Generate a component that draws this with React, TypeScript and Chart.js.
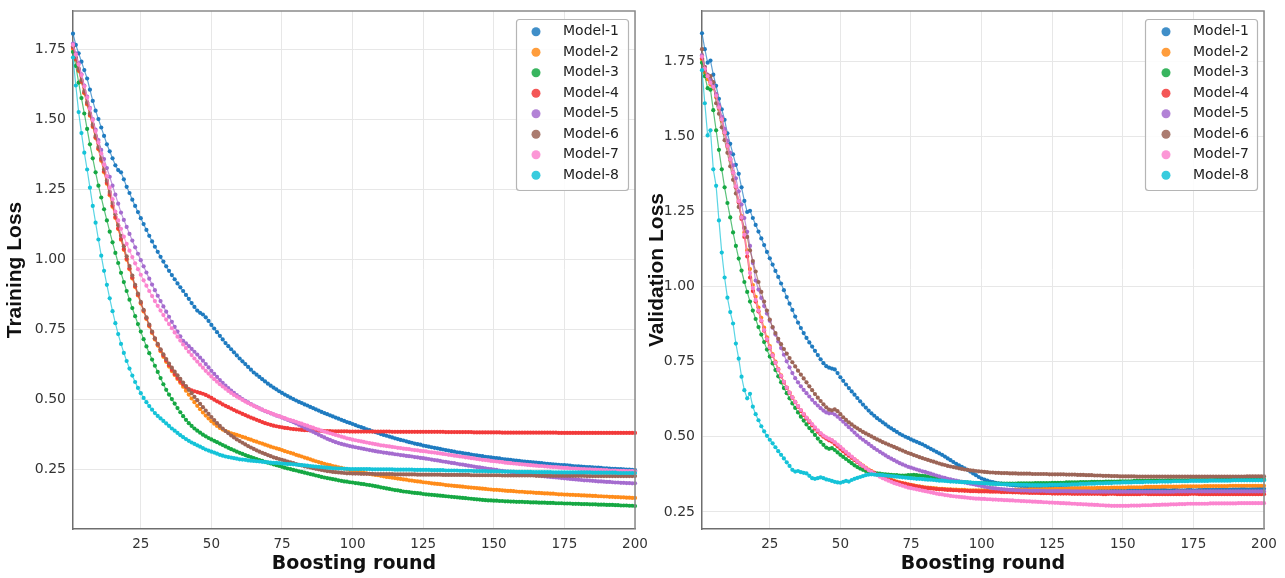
import React, { useEffect, useRef } from 'react';
import { Chart, registerables } from 'chart.js';

Chart.register(...registerables);

const MODELS = ['Model-1', 'Model-2', 'Model-3', 'Model-4', 'Model-5', 'Model-6', 'Model-7', 'Model-8'];
const COLORS = ['#1f7bc0', '#ff8c1a', '#16a843', '#f23a3a', '#a56ccf', '#9c6557', '#fb84cf', '#15c3d8'];
const X_TICKS = [25, 50, 75, 100, 125, 150, 175, 200];
const Y_TICKS = [0.25, 0.5, 0.75, 1.0, 1.25, 1.5, 1.75];
const ROUNDS = Array.from({ length: 200 }, (_, i) => i + 1);
const TRAIN_Y_RANGE = [0.036, 1.886];
const VAL_Y_RANGE = [0.193, 1.917];

// ---------------- Training loss ----------------
const TRAIN_M1 = [
  1.805, 1.765, 1.735, 1.705, 1.675, 1.645, 1.605, 1.565, 1.530, 1.500,
  1.470, 1.440, 1.410, 1.385, 1.360, 1.335, 1.318, 1.310, 1.285, 1.258,
  1.236, 1.212, 1.190, 1.168, 1.146, 1.125, 1.104, 1.083, 1.063, 1.044,
  1.026, 1.008, 0.991, 0.974, 0.958, 0.943, 0.928, 0.913, 0.899, 0.886,
  0.872, 0.858, 0.843, 0.829, 0.816, 0.808, 0.802, 0.792, 0.779, 0.765,
  0.752, 0.739, 0.726, 0.713, 0.700, 0.689, 0.678, 0.667, 0.656, 0.645,
  0.635, 0.625, 0.615, 0.605, 0.595, 0.587, 0.579, 0.571, 0.563, 0.555,
  0.548, 0.541, 0.535, 0.528, 0.522, 0.516, 0.511, 0.505, 0.500, 0.495,
  0.490, 0.486, 0.481, 0.477, 0.472, 0.468, 0.463, 0.459, 0.454, 0.450,
  0.446, 0.442, 0.438, 0.434, 0.430, 0.426, 0.422, 0.418, 0.415, 0.411,
  0.407, 0.403, 0.400, 0.396, 0.392, 0.389, 0.385, 0.382, 0.379, 0.375,
  0.372, 0.369, 0.366, 0.363, 0.360, 0.357, 0.354, 0.352, 0.349, 0.346,
  0.344, 0.341, 0.339, 0.337, 0.334, 0.332, 0.330, 0.328, 0.326, 0.324,
  0.322, 0.320, 0.318, 0.316, 0.314, 0.312, 0.310, 0.309, 0.307, 0.305,
  0.304, 0.302, 0.300, 0.299, 0.297, 0.296, 0.294, 0.293, 0.292, 0.290,
  0.289, 0.288, 0.286, 0.285, 0.284, 0.283, 0.281, 0.280, 0.279, 0.278,
  0.277, 0.276, 0.275, 0.274, 0.273, 0.272, 0.271, 0.270, 0.269, 0.268,
  0.267, 0.266, 0.265, 0.264, 0.264, 0.263, 0.262, 0.261, 0.260, 0.260,
  0.259, 0.258, 0.257, 0.257, 0.256, 0.255, 0.255, 0.254, 0.253, 0.253,
  0.252, 0.251, 0.251, 0.250, 0.250, 0.249, 0.248, 0.248, 0.247, 0.246,
];
const TRAIN_M2 = [
  1.750, 1.712, 1.672, 1.632, 1.592, 1.552, 1.512, 1.472, 1.432, 1.392,
  1.351, 1.310, 1.269, 1.228, 1.187, 1.147, 1.107, 1.069, 1.033, 0.998,
  0.964, 0.931, 0.900, 0.870, 0.841, 0.813, 0.786, 0.760, 0.736, 0.713,
  0.691, 0.671, 0.651, 0.633, 0.616, 0.600, 0.586, 0.572, 0.558, 0.544,
  0.530, 0.516, 0.502, 0.489, 0.476, 0.464, 0.452, 0.441, 0.431, 0.421,
  0.412, 0.404, 0.397, 0.391, 0.386, 0.382, 0.378, 0.375, 0.372, 0.369,
  0.365, 0.362, 0.358, 0.355, 0.351, 0.348, 0.344, 0.341, 0.337, 0.334,
  0.330, 0.327, 0.324, 0.321, 0.318, 0.314, 0.311, 0.308, 0.305, 0.301,
  0.298, 0.295, 0.291, 0.288, 0.285, 0.281, 0.278, 0.275, 0.272, 0.269,
  0.266, 0.264, 0.261, 0.259, 0.256, 0.254, 0.252, 0.249, 0.247, 0.245,
  0.243, 0.241, 0.239, 0.237, 0.235, 0.233, 0.231, 0.229, 0.228, 0.226,
  0.224, 0.222, 0.221, 0.219, 0.218, 0.216, 0.215, 0.213, 0.212, 0.210,
  0.209, 0.207, 0.206, 0.205, 0.203, 0.202, 0.201, 0.199, 0.198, 0.197,
  0.196, 0.195, 0.193, 0.192, 0.191, 0.190, 0.189, 0.188, 0.187, 0.186,
  0.185, 0.184, 0.183, 0.182, 0.181, 0.180, 0.179, 0.178, 0.177, 0.176,
  0.176, 0.175, 0.174, 0.173, 0.172, 0.172, 0.171, 0.170, 0.169, 0.169,
  0.168, 0.167, 0.167, 0.166, 0.165, 0.165, 0.164, 0.163, 0.163, 0.162,
  0.162, 0.161, 0.160, 0.160, 0.159, 0.159, 0.158, 0.158, 0.157, 0.157,
  0.156, 0.156, 0.155, 0.155, 0.154, 0.154, 0.153, 0.153, 0.152, 0.152,
  0.151, 0.151, 0.150, 0.150, 0.149, 0.149, 0.148, 0.148, 0.147, 0.147,
];
const TRAIN_M3 = [
  1.740, 1.690, 1.630, 1.575, 1.520, 1.465, 1.410, 1.360, 1.310, 1.262,
  1.220, 1.178, 1.138, 1.098, 1.060, 1.022, 0.986, 0.951, 0.918, 0.886,
  0.855, 0.825, 0.796, 0.768, 0.741, 0.714, 0.688, 0.664, 0.641, 0.619,
  0.597, 0.575, 0.553, 0.533, 0.516, 0.500, 0.484, 0.468, 0.453, 0.439,
  0.426, 0.414, 0.404, 0.395, 0.387, 0.380, 0.373, 0.367, 0.361, 0.356,
  0.351, 0.346, 0.341, 0.336, 0.331, 0.326, 0.321, 0.317, 0.312, 0.308,
  0.304, 0.300, 0.296, 0.293, 0.289, 0.286, 0.282, 0.279, 0.276, 0.273,
  0.270, 0.267, 0.264, 0.261, 0.258, 0.255, 0.252, 0.250, 0.247, 0.245,
  0.242, 0.240, 0.237, 0.235, 0.232, 0.230, 0.227, 0.225, 0.222, 0.220,
  0.218, 0.216, 0.214, 0.212, 0.210, 0.208, 0.206, 0.205, 0.203, 0.202,
  0.200, 0.199, 0.197, 0.196, 0.194, 0.193, 0.191, 0.189, 0.187, 0.185,
  0.183, 0.181, 0.179, 0.177, 0.175, 0.174, 0.172, 0.170, 0.169, 0.168,
  0.166, 0.165, 0.164, 0.163, 0.161, 0.160, 0.159, 0.158, 0.157, 0.156,
  0.155, 0.154, 0.153, 0.152, 0.151, 0.150, 0.149, 0.148, 0.147, 0.146,
  0.145, 0.144, 0.143, 0.142, 0.141, 0.140, 0.139, 0.138, 0.138, 0.137,
  0.137, 0.136, 0.136, 0.135, 0.135, 0.134, 0.134, 0.133, 0.133, 0.133,
  0.132, 0.132, 0.131, 0.131, 0.131, 0.130, 0.130, 0.130, 0.129, 0.129,
  0.129, 0.128, 0.128, 0.128, 0.127, 0.127, 0.127, 0.126, 0.126, 0.126,
  0.125, 0.125, 0.125, 0.124, 0.124, 0.124, 0.123, 0.123, 0.123, 0.122,
  0.122, 0.122, 0.121, 0.121, 0.120, 0.120, 0.120, 0.119, 0.119, 0.118,
];
const TRAIN_M4 = [
  1.755, 1.715, 1.675, 1.635, 1.595, 1.555, 1.515, 1.475, 1.435, 1.395,
  1.355, 1.314, 1.273, 1.232, 1.191, 1.150, 1.110, 1.072, 1.036, 1.001,
  0.967, 0.934, 0.903, 0.873, 0.844, 0.816, 0.789, 0.763, 0.739, 0.716,
  0.695, 0.675, 0.656, 0.638, 0.621, 0.605, 0.590, 0.576, 0.563, 0.552,
  0.543, 0.536, 0.531, 0.528, 0.525, 0.522, 0.519, 0.515, 0.510, 0.504,
  0.498, 0.492, 0.487, 0.481, 0.476, 0.471, 0.466, 0.461, 0.456, 0.452,
  0.447, 0.443, 0.438, 0.434, 0.430, 0.426, 0.422, 0.418, 0.414, 0.411,
  0.408, 0.405, 0.403, 0.401, 0.399, 0.397, 0.396, 0.394, 0.393, 0.392,
  0.391, 0.390, 0.389, 0.389, 0.388, 0.388, 0.387, 0.387, 0.386, 0.386,
  0.386, 0.386, 0.385, 0.385, 0.385, 0.385, 0.385, 0.385, 0.384, 0.384,
  0.384, 0.384, 0.384, 0.384, 0.384, 0.384, 0.384, 0.384, 0.384, 0.384,
  0.384, 0.384, 0.384, 0.383, 0.383, 0.383, 0.383, 0.383, 0.383, 0.383,
  0.383, 0.383, 0.383, 0.383, 0.383, 0.383, 0.383, 0.383, 0.383, 0.383,
  0.383, 0.383, 0.382, 0.382, 0.382, 0.382, 0.382, 0.382, 0.382, 0.382,
  0.382, 0.382, 0.381, 0.381, 0.381, 0.381, 0.381, 0.381, 0.381, 0.381,
  0.381, 0.381, 0.380, 0.380, 0.380, 0.380, 0.380, 0.380, 0.380, 0.380,
  0.380, 0.380, 0.380, 0.380, 0.380, 0.380, 0.380, 0.380, 0.380, 0.380,
  0.380, 0.380, 0.379, 0.379, 0.379, 0.379, 0.379, 0.379, 0.379, 0.379,
  0.379, 0.379, 0.379, 0.379, 0.379, 0.379, 0.379, 0.379, 0.379, 0.379,
  0.379, 0.379, 0.379, 0.379, 0.379, 0.379, 0.379, 0.379, 0.379, 0.379,
];
const TRAIN_M5 = [
  1.770, 1.735, 1.700, 1.660, 1.620, 1.580, 1.540, 1.500, 1.462, 1.425,
  1.390, 1.357, 1.325, 1.294, 1.262, 1.230, 1.198, 1.166, 1.140, 1.115,
  1.090, 1.066, 1.042, 1.019, 0.996, 0.974, 0.952, 0.930, 0.909, 0.889,
  0.869, 0.850, 0.831, 0.812, 0.794, 0.776, 0.758, 0.741, 0.724, 0.708,
  0.699, 0.689, 0.679, 0.669, 0.659, 0.648, 0.637, 0.625, 0.613, 0.601,
  0.590, 0.579, 0.568, 0.558, 0.548, 0.539, 0.530, 0.522, 0.514, 0.507,
  0.500, 0.494, 0.488, 0.482, 0.477, 0.472, 0.467, 0.462, 0.457, 0.453,
  0.449, 0.445, 0.441, 0.438, 0.434, 0.430, 0.426, 0.422, 0.418, 0.413,
  0.408, 0.403, 0.398, 0.393, 0.388, 0.383, 0.378, 0.373, 0.368, 0.363,
  0.358, 0.354, 0.350, 0.346, 0.343, 0.340, 0.337, 0.335, 0.332, 0.330,
  0.328, 0.326, 0.324, 0.322, 0.320, 0.318, 0.316, 0.314, 0.312, 0.311,
  0.309, 0.308, 0.306, 0.305, 0.303, 0.302, 0.300, 0.299, 0.297, 0.296,
  0.295, 0.293, 0.292, 0.290, 0.289, 0.287, 0.286, 0.284, 0.282, 0.281,
  0.279, 0.277, 0.276, 0.274, 0.272, 0.271, 0.269, 0.267, 0.266, 0.264,
  0.262, 0.261, 0.259, 0.257, 0.256, 0.254, 0.253, 0.251, 0.250, 0.248,
  0.247, 0.245, 0.244, 0.242, 0.241, 0.240, 0.238, 0.237, 0.235, 0.234,
  0.233, 0.231, 0.230, 0.229, 0.228, 0.227, 0.225, 0.224, 0.223, 0.222,
  0.221, 0.220, 0.219, 0.218, 0.217, 0.216, 0.215, 0.214, 0.213, 0.212,
  0.211, 0.210, 0.210, 0.209, 0.208, 0.207, 0.206, 0.206, 0.205, 0.204,
  0.204, 0.203, 0.202, 0.202, 0.201, 0.201, 0.200, 0.200, 0.199, 0.199,
];
const TRAIN_M6 = [
  1.760, 1.720, 1.680, 1.640, 1.600, 1.560, 1.520, 1.480, 1.440, 1.400,
  1.360, 1.320, 1.280, 1.240, 1.200, 1.160, 1.121, 1.083, 1.046, 1.010,
  0.975, 0.941, 0.908, 0.877, 0.847, 0.819, 0.792, 0.766, 0.741, 0.717,
  0.697, 0.678, 0.660, 0.643, 0.627, 0.612, 0.598, 0.585, 0.572, 0.559,
  0.546, 0.533, 0.521, 0.508, 0.496, 0.483, 0.471, 0.459, 0.447, 0.436,
  0.425, 0.414, 0.404, 0.395, 0.386, 0.378, 0.370, 0.363, 0.356, 0.350,
  0.344, 0.338, 0.332, 0.327, 0.322, 0.317, 0.312, 0.308, 0.304, 0.300,
  0.296, 0.292, 0.289, 0.286, 0.283, 0.280, 0.277, 0.274, 0.271, 0.268,
  0.265, 0.263, 0.260, 0.258, 0.256, 0.253, 0.251, 0.249, 0.247, 0.245,
  0.243, 0.242, 0.240, 0.239, 0.238, 0.237, 0.236, 0.235, 0.235, 0.234,
  0.234, 0.234, 0.233, 0.233, 0.233, 0.233, 0.233, 0.232, 0.232, 0.232,
  0.232, 0.232, 0.232, 0.232, 0.231, 0.231, 0.231, 0.231, 0.231, 0.231,
  0.231, 0.231, 0.230, 0.230, 0.230, 0.230, 0.230, 0.230, 0.230, 0.230,
  0.230, 0.229, 0.229, 0.229, 0.229, 0.229, 0.229, 0.229, 0.229, 0.229,
  0.229, 0.228, 0.228, 0.228, 0.228, 0.228, 0.228, 0.228, 0.228, 0.228,
  0.228, 0.228, 0.227, 0.227, 0.227, 0.227, 0.227, 0.227, 0.227, 0.227,
  0.227, 0.227, 0.227, 0.227, 0.226, 0.226, 0.226, 0.226, 0.226, 0.226,
  0.226, 0.226, 0.226, 0.226, 0.226, 0.226, 0.226, 0.226, 0.226, 0.226,
  0.226, 0.226, 0.225, 0.225, 0.225, 0.225, 0.225, 0.225, 0.225, 0.225,
  0.225, 0.225, 0.225, 0.225, 0.225, 0.225, 0.225, 0.225, 0.225, 0.225,
];
const TRAIN_M7 = [
  1.765, 1.730, 1.695, 1.657, 1.617, 1.577, 1.537, 1.497, 1.457, 1.417,
  1.377, 1.337, 1.296, 1.255, 1.214, 1.170, 1.138, 1.108, 1.080, 1.054,
  1.030, 1.007, 0.985, 0.964, 0.944, 0.924, 0.905, 0.886, 0.868, 0.850,
  0.833, 0.816, 0.800, 0.784, 0.768, 0.753, 0.738, 0.723, 0.709, 0.695,
  0.682, 0.669, 0.657, 0.645, 0.634, 0.623, 0.612, 0.601, 0.591, 0.581,
  0.571, 0.562, 0.553, 0.545, 0.537, 0.529, 0.522, 0.515, 0.509, 0.503,
  0.497, 0.491, 0.486, 0.481, 0.476, 0.471, 0.466, 0.462, 0.458, 0.454,
  0.450, 0.446, 0.442, 0.439, 0.435, 0.432, 0.428, 0.425, 0.422, 0.419,
  0.415, 0.412, 0.408, 0.405, 0.401, 0.398, 0.394, 0.391, 0.387, 0.384,
  0.381, 0.378, 0.375, 0.372, 0.369, 0.366, 0.363, 0.360, 0.358, 0.355,
  0.353, 0.351, 0.349, 0.347, 0.345, 0.343, 0.341, 0.339, 0.337, 0.335,
  0.334, 0.332, 0.331, 0.329, 0.328, 0.326, 0.325, 0.323, 0.322, 0.321,
  0.319, 0.318, 0.317, 0.315, 0.314, 0.313, 0.311, 0.310, 0.309, 0.307,
  0.306, 0.304, 0.303, 0.301, 0.300, 0.298, 0.297, 0.295, 0.294, 0.292,
  0.291, 0.289, 0.288, 0.286, 0.285, 0.283, 0.282, 0.281, 0.279, 0.278,
  0.277, 0.276, 0.275, 0.273, 0.272, 0.271, 0.270, 0.269, 0.268, 0.267,
  0.266, 0.265, 0.264, 0.263, 0.262, 0.261, 0.261, 0.260, 0.259, 0.258,
  0.257, 0.257, 0.256, 0.255, 0.254, 0.254, 0.253, 0.252, 0.252, 0.251,
  0.250, 0.250, 0.249, 0.249, 0.248, 0.248, 0.247, 0.247, 0.246, 0.246,
  0.245, 0.245, 0.245, 0.244, 0.244, 0.244, 0.243, 0.243, 0.243, 0.242,
];
const TRAIN_M8 = [
  1.720, 1.620, 1.525, 1.450, 1.380, 1.320, 1.255, 1.190, 1.130, 1.070,
  1.012, 0.958, 0.908, 0.860, 0.814, 0.771, 0.732, 0.697, 0.665, 0.636,
  0.609, 0.584, 0.561, 0.540, 0.521, 0.504, 0.489, 0.475, 0.462, 0.450,
  0.440, 0.431, 0.422, 0.413, 0.404, 0.395, 0.387, 0.379, 0.371, 0.364,
  0.357, 0.351, 0.345, 0.340, 0.335, 0.330, 0.325, 0.320, 0.316, 0.312,
  0.309, 0.305, 0.301, 0.298, 0.295, 0.293, 0.291, 0.289, 0.287, 0.285,
  0.284, 0.283, 0.281, 0.280, 0.279, 0.278, 0.277, 0.276, 0.275, 0.274,
  0.273, 0.272, 0.272, 0.271, 0.270, 0.269, 0.268, 0.268, 0.267, 0.266,
  0.265, 0.264, 0.263, 0.262, 0.261, 0.260, 0.259, 0.258, 0.257, 0.256,
  0.255, 0.254, 0.253, 0.253, 0.252, 0.252, 0.251, 0.251, 0.250, 0.250,
  0.250, 0.250, 0.250, 0.250, 0.250, 0.250, 0.249, 0.249, 0.249, 0.249,
  0.249, 0.249, 0.249, 0.249, 0.248, 0.248, 0.248, 0.248, 0.248, 0.248,
  0.248, 0.247, 0.247, 0.247, 0.247, 0.247, 0.247, 0.246, 0.246, 0.246,
  0.246, 0.246, 0.245, 0.245, 0.245, 0.245, 0.245, 0.244, 0.244, 0.244,
  0.244, 0.244, 0.243, 0.243, 0.243, 0.243, 0.243, 0.242, 0.242, 0.242,
  0.242, 0.242, 0.241, 0.241, 0.241, 0.241, 0.241, 0.240, 0.240, 0.240,
  0.240, 0.240, 0.240, 0.239, 0.239, 0.239, 0.239, 0.239, 0.239, 0.239,
  0.238, 0.238, 0.238, 0.238, 0.238, 0.238, 0.238, 0.238, 0.238, 0.238,
  0.238, 0.238, 0.238, 0.238, 0.237, 0.237, 0.237, 0.237, 0.237, 0.237,
  0.237, 0.237, 0.237, 0.236, 0.236, 0.236, 0.236, 0.236, 0.236, 0.236,
];

// ---------------- Validation loss ----------------
const VAL_M1 = [
  1.843, 1.790, 1.745, 1.752, 1.705, 1.668, 1.625, 1.590, 1.555, 1.510,
  1.475, 1.440, 1.405, 1.375, 1.330, 1.285, 1.248, 1.252, 1.228, 1.205,
  1.183, 1.160, 1.138, 1.115, 1.094, 1.073, 1.052, 1.032, 1.010, 0.988,
  0.965, 0.943, 0.922, 0.900, 0.880, 0.862, 0.845, 0.829, 0.814, 0.800,
  0.786, 0.772, 0.758, 0.745, 0.735, 0.730, 0.727, 0.724, 0.712, 0.698,
  0.686, 0.674, 0.662, 0.651, 0.640, 0.629, 0.618, 0.607, 0.597, 0.587,
  0.578, 0.570, 0.562, 0.555, 0.548, 0.541, 0.534, 0.528, 0.522, 0.516,
  0.510, 0.505, 0.500, 0.496, 0.491, 0.487, 0.483, 0.479, 0.475, 0.470,
  0.465, 0.460, 0.455, 0.450, 0.445, 0.440, 0.434, 0.428, 0.422, 0.416,
  0.410, 0.405, 0.400, 0.395, 0.390, 0.384, 0.378, 0.372, 0.366, 0.361,
  0.357, 0.354, 0.351, 0.349, 0.347, 0.345, 0.344, 0.342, 0.341, 0.340,
  0.339, 0.338, 0.337, 0.336, 0.336, 0.335, 0.334, 0.334, 0.333, 0.333,
  0.332, 0.332, 0.331, 0.331, 0.331, 0.330, 0.330, 0.330, 0.329, 0.329,
  0.329, 0.328, 0.328, 0.328, 0.328, 0.327, 0.327, 0.327, 0.327, 0.327,
  0.327, 0.326, 0.326, 0.327, 0.327, 0.326, 0.326, 0.325, 0.325, 0.326,
  0.326, 0.325, 0.325, 0.324, 0.324, 0.325, 0.325, 0.324, 0.324, 0.323,
  0.323, 0.324, 0.324, 0.323, 0.323, 0.322, 0.322, 0.323, 0.323, 0.322,
  0.322, 0.322, 0.323, 0.323, 0.322, 0.322, 0.323, 0.323, 0.324, 0.324,
  0.323, 0.323, 0.324, 0.324, 0.325, 0.325, 0.324, 0.324, 0.325, 0.325,
  0.325, 0.326, 0.326, 0.325, 0.325, 0.326, 0.326, 0.327, 0.327, 0.327,
];
const VAL_M2 = [
  1.755, 1.712, 1.690, 1.672, 1.660, 1.630, 1.592, 1.552, 1.510, 1.466,
  1.422, 1.378, 1.332, 1.285, 1.234, 1.180, 1.120, 1.058, 1.005, 0.966,
  0.930, 0.896, 0.863, 0.831, 0.802, 0.775, 0.750, 0.726, 0.704, 0.683,
  0.664, 0.647, 0.631, 0.616, 0.602, 0.588, 0.575, 0.563, 0.551, 0.540,
  0.529, 0.519, 0.510, 0.502, 0.496, 0.491, 0.487, 0.480, 0.472, 0.464,
  0.456, 0.448, 0.440, 0.432, 0.425, 0.418, 0.411, 0.404, 0.397, 0.391,
  0.386, 0.381, 0.376, 0.372, 0.368, 0.364, 0.360, 0.357, 0.354, 0.351,
  0.348, 0.346, 0.344, 0.342, 0.340, 0.338, 0.336, 0.335, 0.333, 0.332,
  0.331, 0.330, 0.329, 0.328, 0.327, 0.327, 0.326, 0.325, 0.325, 0.324,
  0.324, 0.323, 0.323, 0.323, 0.322, 0.322, 0.322, 0.322, 0.322, 0.322,
  0.322, 0.322, 0.322, 0.322, 0.322, 0.323, 0.323, 0.323, 0.323, 0.323,
  0.323, 0.324, 0.324, 0.324, 0.324, 0.324, 0.325, 0.325, 0.325, 0.325,
  0.325, 0.326, 0.326, 0.326, 0.326, 0.327, 0.327, 0.327, 0.327, 0.327,
  0.328, 0.328, 0.328, 0.328, 0.328, 0.329, 0.329, 0.329, 0.329, 0.329,
  0.330, 0.330, 0.330, 0.330, 0.330, 0.331, 0.331, 0.331, 0.331, 0.331,
  0.331, 0.332, 0.332, 0.332, 0.332, 0.332, 0.332, 0.333, 0.333, 0.333,
  0.333, 0.333, 0.333, 0.334, 0.334, 0.334, 0.334, 0.334, 0.334, 0.334,
  0.335, 0.335, 0.335, 0.335, 0.335, 0.335, 0.335, 0.335, 0.336, 0.336,
  0.336, 0.336, 0.336, 0.336, 0.336, 0.336, 0.336, 0.337, 0.337, 0.337,
  0.337, 0.337, 0.337, 0.337, 0.337, 0.337, 0.337, 0.337, 0.337, 0.337,
];
const VAL_M3 = [
  1.745, 1.700, 1.660, 1.655, 1.587, 1.520, 1.455, 1.390, 1.330, 1.278,
  1.230, 1.180, 1.135, 1.093, 1.053, 1.015, 0.982, 0.950, 0.920, 0.892,
  0.865, 0.840, 0.815, 0.790, 0.767, 0.744, 0.722, 0.701, 0.681, 0.662,
  0.645, 0.628, 0.611, 0.596, 0.581, 0.567, 0.554, 0.541, 0.529, 0.518,
  0.506, 0.494, 0.483, 0.473, 0.464, 0.460, 0.462, 0.456, 0.448, 0.440,
  0.433, 0.426, 0.419, 0.412, 0.405, 0.399, 0.394, 0.390, 0.386, 0.383,
  0.381, 0.379, 0.378, 0.377, 0.376, 0.375, 0.374, 0.373, 0.372, 0.372,
  0.371, 0.371, 0.371, 0.372, 0.372, 0.373, 0.372, 0.371, 0.370, 0.369,
  0.367, 0.365, 0.363, 0.361, 0.359, 0.357, 0.356, 0.355, 0.354, 0.353,
  0.352, 0.351, 0.350, 0.349, 0.348, 0.347, 0.347, 0.346, 0.346, 0.345,
  0.345, 0.345, 0.344, 0.344, 0.344, 0.344, 0.344, 0.344, 0.344, 0.344,
  0.344, 0.344, 0.345, 0.345, 0.345, 0.345, 0.345, 0.345, 0.346, 0.346,
  0.346, 0.346, 0.346, 0.346, 0.347, 0.347, 0.347, 0.347, 0.347, 0.348,
  0.348, 0.348, 0.348, 0.348, 0.349, 0.349, 0.349, 0.349, 0.350, 0.350,
  0.350, 0.350, 0.350, 0.351, 0.351, 0.351, 0.351, 0.351, 0.352, 0.352,
  0.352, 0.352, 0.352, 0.353, 0.353, 0.353, 0.353, 0.353, 0.353, 0.354,
  0.354, 0.354, 0.354, 0.354, 0.354, 0.355, 0.355, 0.355, 0.355, 0.355,
  0.355, 0.355, 0.355, 0.356, 0.356, 0.356, 0.356, 0.356, 0.356, 0.356,
  0.356, 0.356, 0.357, 0.357, 0.357, 0.357, 0.357, 0.357, 0.357, 0.357,
  0.357, 0.357, 0.357, 0.358, 0.358, 0.358, 0.358, 0.358, 0.358, 0.358,
];
const VAL_M4 = [
  1.760, 1.720, 1.700, 1.680, 1.668, 1.640, 1.600, 1.560, 1.515, 1.470,
  1.425, 1.380, 1.330, 1.280, 1.225, 1.165, 1.100, 1.030, 0.985, 0.950,
  0.917, 0.885, 0.853, 0.822, 0.795, 0.770, 0.746, 0.723, 0.701, 0.681,
  0.663, 0.646, 0.630, 0.615, 0.600, 0.586, 0.573, 0.561, 0.549, 0.538,
  0.527, 0.517, 0.508, 0.500, 0.494, 0.488, 0.484, 0.476, 0.468, 0.460,
  0.452, 0.444, 0.437, 0.430, 0.423, 0.416, 0.409, 0.402, 0.395, 0.389,
  0.384, 0.379, 0.374, 0.370, 0.366, 0.362, 0.358, 0.355, 0.352, 0.349,
  0.347, 0.345, 0.343, 0.341, 0.339, 0.337, 0.335, 0.333, 0.332, 0.330,
  0.329, 0.328, 0.327, 0.326, 0.325, 0.325, 0.324, 0.323, 0.323, 0.322,
  0.322, 0.321, 0.321, 0.320, 0.320, 0.319, 0.319, 0.319, 0.318, 0.318,
  0.318, 0.318, 0.317, 0.317, 0.317, 0.317, 0.316, 0.316, 0.316, 0.316,
  0.315, 0.315, 0.315, 0.314, 0.314, 0.314, 0.313, 0.313, 0.313, 0.313,
  0.312, 0.312, 0.312, 0.312, 0.311, 0.311, 0.311, 0.311, 0.311, 0.311,
  0.311, 0.310, 0.310, 0.310, 0.310, 0.310, 0.310, 0.310, 0.310, 0.310,
  0.310, 0.310, 0.309, 0.309, 0.310, 0.310, 0.310, 0.309, 0.309, 0.309,
  0.309, 0.309, 0.309, 0.309, 0.309, 0.309, 0.310, 0.310, 0.309, 0.309,
  0.309, 0.309, 0.309, 0.309, 0.309, 0.309, 0.309, 0.309, 0.309, 0.309,
  0.309, 0.309, 0.309, 0.310, 0.310, 0.310, 0.309, 0.309, 0.309, 0.309,
  0.309, 0.309, 0.309, 0.309, 0.309, 0.309, 0.309, 0.309, 0.309, 0.309,
  0.309, 0.309, 0.309, 0.309, 0.309, 0.309, 0.309, 0.309, 0.309, 0.309,
];
const VAL_M5 = [
  1.770, 1.730, 1.705, 1.690, 1.670, 1.640, 1.605, 1.565, 1.525, 1.485,
  1.445, 1.403, 1.360, 1.317, 1.273, 1.228, 1.182, 1.135, 1.078, 1.020,
  0.990, 0.962, 0.935, 0.910, 0.886, 0.863, 0.840, 0.817, 0.795, 0.773,
  0.751, 0.731, 0.712, 0.695, 0.681, 0.668, 0.656, 0.645, 0.634, 0.623,
  0.613, 0.604, 0.595, 0.587, 0.581, 0.578, 0.579, 0.574, 0.567, 0.559,
  0.550, 0.541, 0.532, 0.523, 0.514, 0.505, 0.497, 0.490, 0.483, 0.476,
  0.469, 0.462, 0.456, 0.450, 0.444, 0.438, 0.432, 0.427, 0.422, 0.417,
  0.412, 0.408, 0.404, 0.400, 0.397, 0.394, 0.391, 0.388, 0.385, 0.383,
  0.380, 0.377, 0.374, 0.371, 0.368, 0.365, 0.363, 0.360, 0.358, 0.356,
  0.354, 0.352, 0.350, 0.348, 0.346, 0.344, 0.342, 0.340, 0.338, 0.336,
  0.334, 0.332, 0.330, 0.329, 0.328, 0.327, 0.326, 0.325, 0.324, 0.323,
  0.323, 0.322, 0.322, 0.321, 0.321, 0.321, 0.320, 0.320, 0.320, 0.320,
  0.320, 0.320, 0.319, 0.319, 0.319, 0.319, 0.319, 0.319, 0.319, 0.319,
  0.319, 0.318, 0.318, 0.318, 0.318, 0.318, 0.318, 0.318, 0.317, 0.317,
  0.317, 0.317, 0.317, 0.317, 0.317, 0.317, 0.317, 0.317, 0.317, 0.317,
  0.317, 0.317, 0.317, 0.317, 0.317, 0.317, 0.317, 0.317, 0.317, 0.317,
  0.317, 0.317, 0.317, 0.317, 0.317, 0.317, 0.317, 0.317, 0.318, 0.318,
  0.318, 0.318, 0.318, 0.318, 0.318, 0.318, 0.318, 0.318, 0.318, 0.318,
  0.318, 0.318, 0.318, 0.318, 0.318, 0.318, 0.318, 0.318, 0.318, 0.318,
  0.318, 0.318, 0.318, 0.318, 0.318, 0.318, 0.318, 0.318, 0.318, 0.318,
];
const VAL_M6 = [
  1.790, 1.730, 1.703, 1.700, 1.680, 1.610, 1.575, 1.530, 1.487, 1.445,
  1.400, 1.355, 1.310, 1.265, 1.230, 1.195, 1.165, 1.120, 1.085, 1.050,
  1.015, 0.982, 0.950, 0.920, 0.890, 0.865, 0.845, 0.826, 0.808, 0.792,
  0.777, 0.762, 0.748, 0.734, 0.720, 0.707, 0.694, 0.681, 0.668, 0.655,
  0.642, 0.630, 0.619, 0.608, 0.598, 0.590, 0.588, 0.591, 0.585, 0.575,
  0.565, 0.556, 0.548, 0.541, 0.534, 0.528, 0.522, 0.516, 0.511, 0.506,
  0.501, 0.496, 0.491, 0.487, 0.482, 0.478, 0.474, 0.470, 0.466, 0.462,
  0.458, 0.454, 0.450, 0.446, 0.443, 0.439, 0.436, 0.432, 0.429, 0.426,
  0.423, 0.420, 0.417, 0.414, 0.411, 0.408, 0.406, 0.403, 0.401, 0.399,
  0.397, 0.395, 0.393, 0.391, 0.390, 0.388, 0.387, 0.386, 0.385, 0.384,
  0.383, 0.382, 0.381, 0.381, 0.380, 0.380, 0.379, 0.379, 0.379, 0.378,
  0.378, 0.378, 0.377, 0.377, 0.377, 0.377, 0.377, 0.376, 0.376, 0.376,
  0.376, 0.376, 0.376, 0.375, 0.375, 0.375, 0.375, 0.375, 0.375, 0.374,
  0.374, 0.374, 0.374, 0.373, 0.373, 0.373, 0.372, 0.372, 0.372, 0.371,
  0.371, 0.371, 0.370, 0.370, 0.370, 0.369, 0.369, 0.369, 0.368, 0.368,
  0.368, 0.368, 0.368, 0.368, 0.367, 0.367, 0.367, 0.367, 0.367, 0.367,
  0.367, 0.367, 0.367, 0.367, 0.367, 0.367, 0.367, 0.367, 0.367, 0.367,
  0.367, 0.367, 0.367, 0.367, 0.367, 0.367, 0.367, 0.367, 0.367, 0.367,
  0.367, 0.367, 0.367, 0.367, 0.367, 0.367, 0.367, 0.367, 0.367, 0.367,
  0.367, 0.367, 0.367, 0.368, 0.368, 0.368, 0.368, 0.368, 0.368, 0.368,
];
const VAL_M7 = [
  1.765, 1.725, 1.700, 1.678, 1.664, 1.635, 1.596, 1.556, 1.513, 1.468,
  1.424, 1.379, 1.333, 1.284, 1.230, 1.172, 1.112, 1.045, 0.995, 0.955,
  0.920, 0.887, 0.855, 0.825, 0.797, 0.771, 0.747, 0.724, 0.703, 0.683,
  0.664, 0.647, 0.631, 0.616, 0.602, 0.589, 0.576, 0.564, 0.553, 0.542,
  0.531, 0.521, 0.512, 0.504, 0.498, 0.493, 0.489, 0.482, 0.474, 0.466,
  0.458, 0.450, 0.442, 0.434, 0.426, 0.418, 0.410, 0.403, 0.396, 0.389,
  0.383, 0.377, 0.372, 0.367, 0.362, 0.358, 0.354, 0.350, 0.346, 0.343,
  0.340, 0.337, 0.334, 0.331, 0.329, 0.327, 0.325, 0.323, 0.321, 0.319,
  0.317, 0.315, 0.313, 0.311, 0.309, 0.308, 0.306, 0.305, 0.303, 0.302,
  0.301, 0.300, 0.299, 0.298, 0.297, 0.296, 0.295, 0.294, 0.294, 0.293,
  0.293, 0.292, 0.292, 0.291, 0.291, 0.290, 0.290, 0.289, 0.289, 0.288,
  0.288, 0.287, 0.287, 0.286, 0.286, 0.285, 0.285, 0.284, 0.284, 0.283,
  0.283, 0.282, 0.282, 0.281, 0.281, 0.280, 0.280, 0.279, 0.279, 0.278,
  0.278, 0.277, 0.277, 0.276, 0.276, 0.275, 0.275, 0.274, 0.274, 0.273,
  0.273, 0.272, 0.272, 0.271, 0.271, 0.270, 0.270, 0.270, 0.270, 0.270,
  0.270, 0.270, 0.271, 0.271, 0.271, 0.271, 0.272, 0.272, 0.272, 0.272,
  0.273, 0.273, 0.273, 0.274, 0.274, 0.274, 0.275, 0.275, 0.275, 0.276,
  0.276, 0.276, 0.277, 0.277, 0.277, 0.277, 0.277, 0.277, 0.277, 0.277,
  0.278, 0.278, 0.278, 0.278, 0.278, 0.278, 0.278, 0.278, 0.278, 0.278,
  0.279, 0.279, 0.279, 0.279, 0.279, 0.279, 0.279, 0.279, 0.279, 0.279,
];
const VAL_M8 = [
  1.720, 1.610, 1.503, 1.520, 1.390, 1.335, 1.220, 1.113, 1.030, 0.963,
  0.915, 0.877, 0.810, 0.760, 0.700, 0.655, 0.628, 0.643, 0.600, 0.575,
  0.555, 0.535, 0.518, 0.503, 0.490, 0.478, 0.465, 0.452, 0.440, 0.428,
  0.415, 0.403, 0.390, 0.384, 0.386, 0.382, 0.380, 0.378, 0.370, 0.362,
  0.360, 0.362, 0.365, 0.362, 0.358, 0.356, 0.353, 0.350, 0.348, 0.347,
  0.350, 0.353, 0.351, 0.356, 0.360, 0.363, 0.366, 0.369, 0.372, 0.374,
  0.375, 0.374, 0.373, 0.373, 0.372, 0.371, 0.370, 0.369, 0.368, 0.367,
  0.366, 0.365, 0.364, 0.363, 0.362, 0.361, 0.360, 0.360, 0.359, 0.358,
  0.357, 0.357, 0.356, 0.355, 0.354, 0.354, 0.353, 0.352, 0.351, 0.351,
  0.350, 0.350, 0.349, 0.349, 0.348, 0.348, 0.347, 0.347, 0.346, 0.346,
  0.345, 0.345, 0.344, 0.344, 0.343, 0.343, 0.342, 0.342, 0.342, 0.341,
  0.341, 0.341, 0.340, 0.340, 0.340, 0.340, 0.339, 0.339, 0.339, 0.339,
  0.339, 0.339, 0.339, 0.340, 0.340, 0.340, 0.340, 0.341, 0.341, 0.341,
  0.341, 0.342, 0.342, 0.342, 0.343, 0.343, 0.343, 0.344, 0.344, 0.344,
  0.345, 0.345, 0.345, 0.346, 0.346, 0.346, 0.347, 0.347, 0.347, 0.348,
  0.348, 0.348, 0.348, 0.349, 0.349, 0.349, 0.349, 0.350, 0.350, 0.350,
  0.350, 0.350, 0.351, 0.351, 0.351, 0.351, 0.351, 0.352, 0.352, 0.352,
  0.352, 0.352, 0.352, 0.353, 0.353, 0.353, 0.353, 0.353, 0.353, 0.353,
  0.354, 0.354, 0.354, 0.354, 0.354, 0.354, 0.354, 0.354, 0.355, 0.355,
  0.355, 0.355, 0.355, 0.355, 0.355, 0.355, 0.355, 0.355, 0.355, 0.355,
];

const TRAIN_SERIES = [TRAIN_M1, TRAIN_M2, TRAIN_M3, TRAIN_M4, TRAIN_M5, TRAIN_M6, TRAIN_M7, TRAIN_M8];
const VAL_SERIES = [VAL_M1, VAL_M2, VAL_M3, VAL_M4, VAL_M5, VAL_M6, VAL_M7, VAL_M8];

function withAlpha(hex: string, a: number) {
  const n = parseInt(hex.slice(1), 16);
  return `rgba(${(n >> 16) & 255},${(n >> 8) & 255},${n & 255},${a})`;
}

const framePlugin = {
  id: 'frame',
  afterDatasetsDraw(chart: any) {
    const { ctx, chartArea: a } = chart;
    ctx.save();
    ctx.strokeStyle = '#8a8a8a';
    ctx.lineWidth = 1.5;
    ctx.beginPath();
    ctx.moveTo(a.left, a.top);
    ctx.lineTo(a.right, a.top);
    ctx.lineTo(a.right, a.bottom);
    ctx.stroke();
    ctx.restore();
  },
};

const boxLegend = {
  id: 'boxLegend',
  afterDraw(chart: any, _args: any, opts: any) {
    const { ctx } = chart;
    const { x, y, w, h, markerX, textX, firstY, rowH } = opts;
    ctx.save();
    ctx.beginPath();
    if (ctx.roundRect) ctx.roundRect(x + 0.5, y + 0.5, w, h, 3);
    else ctx.rect(x + 0.5, y + 0.5, w, h);
    ctx.fillStyle = 'rgba(255,255,255,0.85)';
    ctx.fill();
    ctx.strokeStyle = '#b5b5b5';
    ctx.lineWidth = 1.2;
    ctx.stroke();
    chart.data.datasets.forEach((ds: any, i: number) => {
      const cy = firstY + i * rowH;
      ctx.beginPath();
      ctx.arc(markerX, cy, 4.5, 0, Math.PI * 2);
      ctx.fillStyle = withAlpha(COLORS[i], 0.85);
      ctx.fill();
      ctx.fillStyle = '#222';
      ctx.font = "14px 'DejaVu Sans', sans-serif";
      ctx.textBaseline = 'middle';
      ctx.textAlign = 'left';
      ctx.fillText(ds.label, textX, cy);
    });
    ctx.restore();
  },
};

function makeConfig(
  series: number[][],
  yRange: number[],
  yTitle: string,
  yWidth: number,
  rightPad: number,
  titlePad: number,
  legend: any
): any {
  return {
    type: 'line',
    data: {
      datasets: MODELS.map((name, i) => ({
        label: name,
        data: series[i].map((v, j) => ({ x: ROUNDS[j], y: v })),
        borderColor: withAlpha(COLORS[i], 0.7),
        backgroundColor: COLORS[i],
        pointBackgroundColor: COLORS[i],
        pointBorderWidth: 0,
        pointRadius: 2.1,
        pointHoverRadius: 0,
        borderWidth: 1.2,
        tension: 0,
        order: 7 - i,
        clip: 4,
      })),
    },
    options: {
      animation: false,
      responsive: false,
      maintainAspectRatio: false,
      devicePixelRatio: 1,
      events: [],
      layout: { padding: { top: 11, right: rightPad, left: 0, bottom: 0 } },
      plugins: {
        legend: { display: false },
        tooltip: { enabled: false },
        boxLegend: legend,
      },
      scales: {
        x: {
          type: 'linear',
          min: 1,
          max: 200,
          afterBuildTicks: (s: any) => {
            s.ticks = X_TICKS.map((v) => ({ value: v }));
          },
          afterFit: (s: any) => {
            s.height = 49;
            s.paddingLeft = 0;
            s.paddingRight = 0;
          },
          grid: { color: '#e7e7e7', lineWidth: 1, drawTicks: false },
          border: { color: '#6e6e6e', width: 1.5 },
          ticks: {
            font: { family: "'DejaVu Sans', sans-serif", size: 13.5 },
            color: '#333',
            padding: 7,
            maxRotation: 0,
            autoSkip: false,
            callback: (v: any) => String(v),
          },
          title: {
            display: true,
            text: 'Boosting round',
            color: '#111',
            font: { family: "'DejaVu Sans', sans-serif", size: 19, weight: 'bold' },
            padding: { top: 0, bottom: 2.6 },
          },
        },
        y: {
          type: 'linear',
          min: yRange[0],
          max: yRange[1],
          afterBuildTicks: (s: any) => {
            s.ticks = Y_TICKS.map((v) => ({ value: v }));
          },
          afterFit: (s: any) => {
            s.width = yWidth;
            s.paddingTop = 0;
            s.paddingBottom = 0;
          },
          grid: { color: '#e7e7e7', lineWidth: 1, drawTicks: false },
          border: { color: '#6e6e6e', width: 1.5 },
          ticks: {
            font: { family: "'DejaVu Sans', sans-serif", size: 14 },
            color: '#333',
            padding: 7,
            autoSkip: false,
            callback: (v: any) => Number(v).toFixed(2),
          },
          title: {
            display: true,
            text: yTitle,
            color: '#111',
            font: { family: "'Liberation Sans', Arial, sans-serif", size: 21, weight: 'bold' },
            padding: { top: titlePad, bottom: 0 },
          },
        },
      },
    },
    plugins: [framePlugin, boxLegend],
  };
}

function Panel({ config, left, width }: { config: () => any; left: number; width: number }) {
  const ref = useRef<HTMLCanvasElement>(null);
  useEffect(() => {
    const chart = new Chart(ref.current as HTMLCanvasElement, config());
    return () => chart.destroy();
  }, []);
  return (
    <canvas
      ref={ref}
      width={width}
      height={578}
      style={{ position: 'absolute', left, top: 0, width, height: 578, display: 'block' }}
    />
  );
}

export default function App() {
  return (
    <div
      style={{
        position: 'fixed',
        left: 0,
        top: 0,
        width: 1285,
        height: 578,
        background: '#ffffff',
        overflow: 'hidden',
      }}
    >
      <Panel
        left={0}
        width={660}
        config={() =>
          makeConfig(TRAIN_SERIES, TRAIN_Y_RANGE, 'Training Loss', 73, 25, 3, {
            x: 516, y: 19, w: 112, h: 171, markerX: 536, textX: 563, firstY: 31.7, rowH: 20.5,
          })
        }
      />
      <Panel
        left={640}
        width={645}
        config={() =>
          makeConfig(VAL_SERIES, VAL_Y_RANGE, 'Validation Loss', 62, 21, 5, {
            x: 505, y: 19, w: 112, h: 171, markerX: 526, textX: 553, firstY: 31.7, rowH: 20.5,
          })
        }
      />
    </div>
  );
}
